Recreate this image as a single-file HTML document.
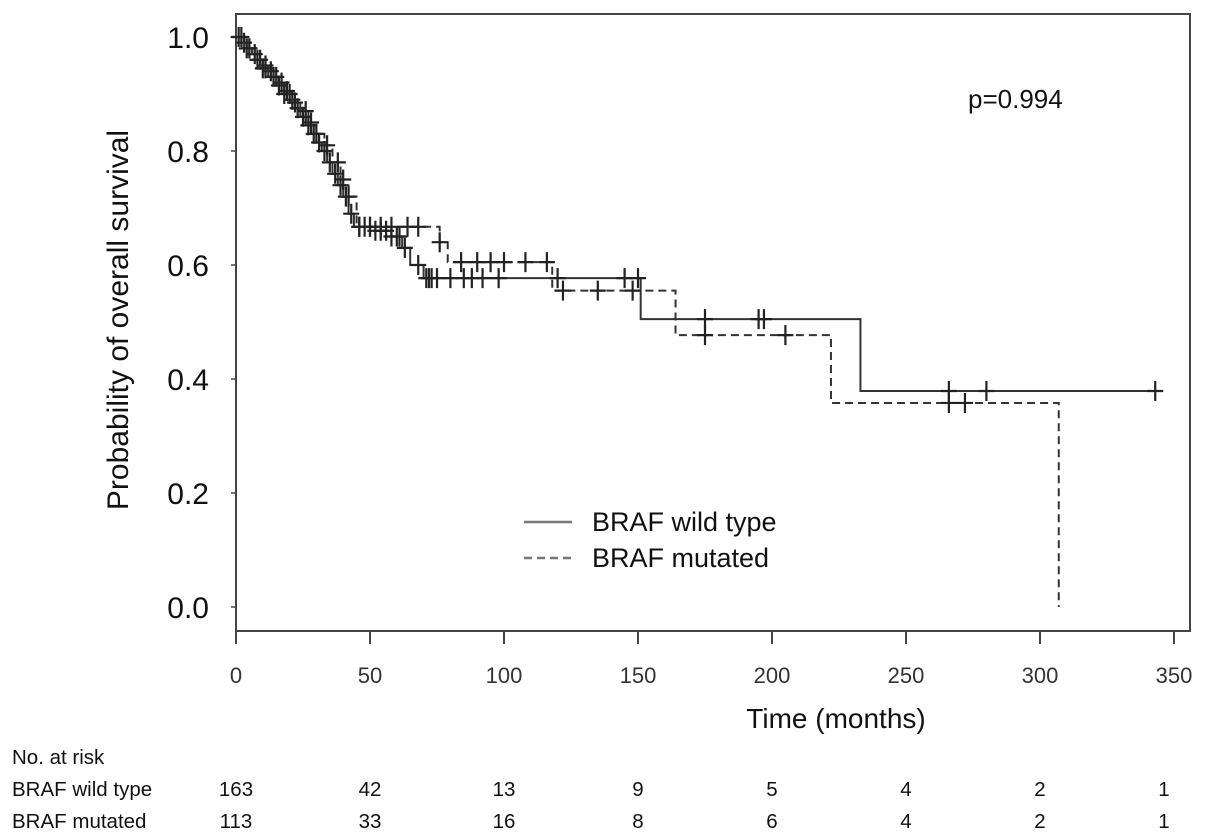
<!DOCTYPE html>
<html><head><meta charset="utf-8"><style>
html,body{margin:0;padding:0;background:#fff;}
svg{display:block;font-family:"Liberation Sans",sans-serif;}
</style></head><body>
<svg id="chart" width="1205" height="840" viewBox="0 0 1205 840">
<rect x="236" y="14" width="954" height="617" fill="none" stroke="#444" stroke-width="2"/>
<g id="yaxis"></g>
<g id="xaxis"></g>
<g id="series"></g>
<text x="968" y="108" font-size="26" fill="#111">p=0.994</text>
<text transform="translate(128,320) rotate(-90)" text-anchor="middle" font-size="30" fill="#111">Probability of overall survival</text>
<text x="836" y="728" text-anchor="middle" font-size="28" fill="#111">Time (months)</text>
<g>
<line x1="524" y1="522" x2="572" y2="522" stroke="#777" stroke-width="2.5"/>
<text x="592" y="531" font-size="27" fill="#111">BRAF wild type</text>
<line x1="524" y1="558" x2="572" y2="558" stroke="#777" stroke-width="2.5" stroke-dasharray="8,5"/>
<text x="592" y="567" font-size="27" fill="#111">BRAF mutated</text>
</g>
<g id="risk" font-size="20.5" fill="#111">
<text x="12" y="764">No. at risk</text>
<text x="12" y="796">BRAF wild type</text>
<text x="12" y="828">BRAF mutated</text>
</g>
</svg>
<script>
const yTicks = [0, 0.2, 0.4, 0.6, 0.8, 1.0];
const xTicks = [0, 50, 100, 150, 200, 250, 300, 350];
const wtTimes = [0,2,4,6,8,10,12,14,16,18,20,22,24,26,28,30,32,34,36,38,40,42,44,52,58,62,65,70,151,233];
const wtSurv = [1.0,0.99,0.98,0.97,0.96,0.95,0.94,0.93,0.92,0.905,0.89,0.875,0.86,0.845,0.83,0.815,0.80,0.78,0.76,0.74,0.72,0.69,0.667,0.66,0.65,0.63,0.60,0.577,0.505,0.379];
const wtEnd = 344;
const wtCensor = [1,3,5,7,9,11,13,15,17,19,21,23,25,27,29,31,33,35,37,39,41,43,46,48,50,52,54,56,58,60,61,63,68,71,72,73,75,80,85,88,92,98,120,145,150,175,195,197,266,280,343];
const muTimes = [0,3,6,9,12,15,18,21,24,27,30,33,36,39,42,45,76,79,118,164,222,307];
const muSurv = [1.0,0.98,0.96,0.945,0.93,0.915,0.90,0.885,0.87,0.85,0.83,0.81,0.78,0.75,0.72,0.667,0.64,0.605,0.555,0.477,0.358,0];
const muEnd = 307;
const muCensor = [2,4,5,8,10,11,14,16,18,20,22,26,28,30,34,38,40,42,46,50,54,58,64,68,76,84,90,95,100,108,116,122,135,148,175,205,266,272];
const riskWt = [163,42,13,9,5,4,2,1];
const riskMu = [113,33,16,8,6,4,2,1];

const NS = "http://www.w3.org/2000/svg";
const X = t => 236 + t * 2.68;
const Y = s => 607 - s * 570;
function mk(tag, attrs, parent){const e=document.createElementNS(NS,tag);for(const k in attrs)e.setAttribute(k,attrs[k]);parent.appendChild(e);return e;}
const ya=document.getElementById('yaxis'), xa=document.getElementById('xaxis'), sg=document.getElementById('series'), rk=document.getElementById('risk');
yTicks.forEach(v=>{
  const l=mk('line',{x1:231,x2:236,y1:Y(v),y2:Y(v),stroke:'#444','stroke-width':1.5},ya);
  
  
  const t=mk('text',{x:209,y:Y(v)+11,'text-anchor':'end','font-size':30,fill:'#111'},ya);
  t.textContent=v.toFixed(1);
  
  
});
xTicks.forEach(v=>{
  const l=mk('line',{x1:X(v),x2:X(v),y1:631,y2:644,stroke:'#444','stroke-width':2},xa);
  
  
  const t=mk('text',{x:X(v),y:683,'text-anchor':'middle','font-size':22,fill:'#333'},xa);
  t.textContent=v;
  
  
});
function surv(times,sv,t){let s=sv[0];for(let i=0;i<times.length;i++){if(times[i]<=t)s=sv[i];}return s;}
function stepPath(times,sv,end){
  let d='M'+X(times[0])+','+Y(sv[0]);
  for(let i=1;i<times.length;i++){d+=' H'+X(times[i])+' V'+Y(sv[i]);}
  if(sv[sv.length-1]>0) d+=' H'+X(end);
  return d;
}
function draw(times,sv,end,cens,dash,name){
  const p=mk('path',{d:stepPath(times,sv,end),fill:'none',stroke:'#333','stroke-width':2,'stroke-dasharray':dash},sg);
  
  
  cens.forEach(t=>{
    const s=surv(times,sv,t);
    const c=mk('path',{d:'M'+(X(t)-8)+','+Y(s)+' H'+(X(t)+8)+' M'+X(t)+','+(Y(s)-10)+' V'+(Y(s)+10),stroke:'#222','stroke-width':2.2,fill:'none'},sg);
    
    
  });
}
draw(wtTimes,wtSurv,wtEnd,wtCensor,'none','wild-type');
draw(muTimes,muSurv,muEnd,muCensor,'8,5','mutated');
xTicks.forEach((v,i)=>{
  const a=mk('text',{x:Math.min(X(v),1164),y:796,'text-anchor':'middle'},rk);
  a.textContent=riskWt[i];
  
  
  const b=mk('text',{x:Math.min(X(v),1164),y:828,'text-anchor':'middle'},rk);
  b.textContent=riskMu[i];
  
  
});
</script>
</body></html>
